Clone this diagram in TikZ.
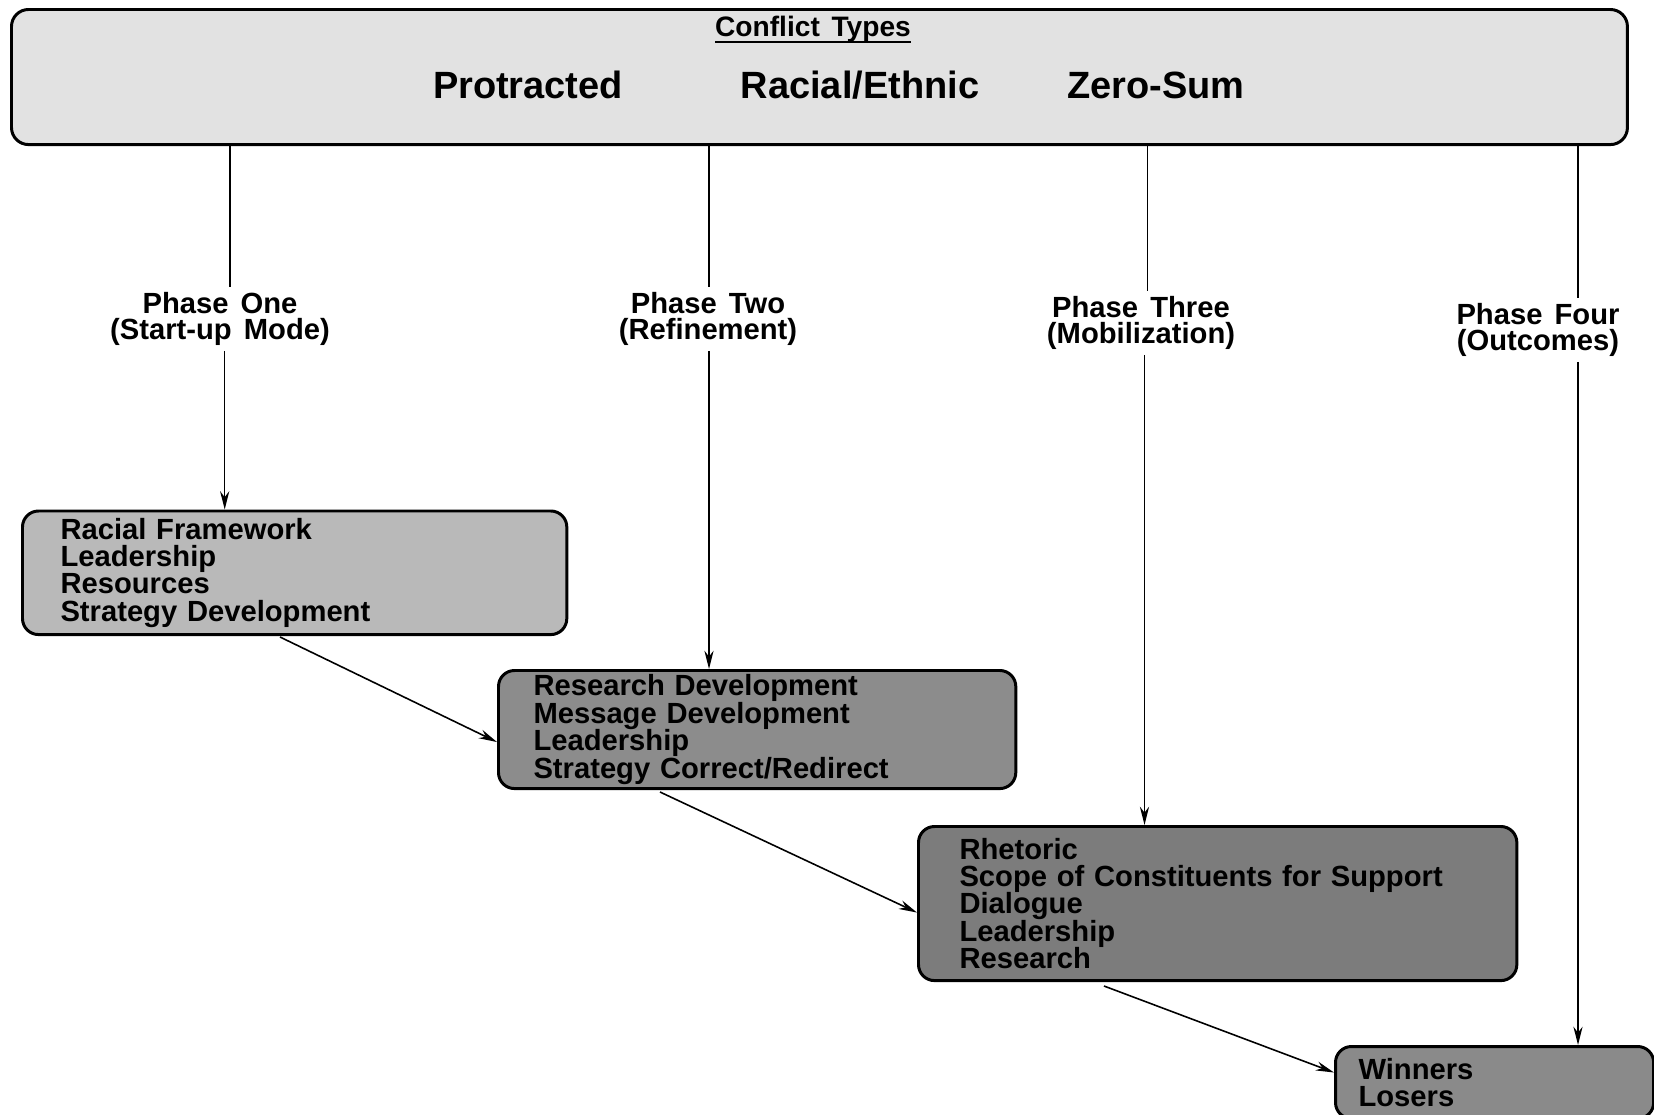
\documentclass[tikz,border=0pt]{standalone}
\usepackage{fontspec}
\setmainfont{Liberation Sans}[WordSpace=1.5]
\usetikzlibrary{arrows.meta}
\definecolor{typefill}{RGB}{226,226,226}
\definecolor{onefill}{RGB}{185,185,185}
\definecolor{twofill}{RGB}{140,140,140}
\definecolor{threefill}{RGB}{124,124,124}
\definecolor{fourfill}{RGB}{138,138,138}
\newcommand{\typesline}[1]{\setbox0\hbox{#1}\rlap{\rule[-1.6pt]{\wd0}{.6pt}}\box0}
\tikzset{
  stagebox/.style={draw, line width=.85pt, rounded corners=1.6mm, anchor=north west,
    align=left, inner ysep=0pt, font=\fontsize{8.3}{7.8}\selectfont\bfseries},
  phase/.style={align=center, inner sep=1.2pt, font=\fontsize{8.3}{7.5}\selectfont\bfseries},
  ctype/.style={anchor=base, font=\fontsize{10.8}{12}\selectfont\bfseries},
}
\begin{document}
\begin{tikzpicture}[x=.01cm, y=-.01cm, >={Stealth[length=5.2pt,width=2.6pt]}, line width=.45pt]
     \useasboundingbox (0,0) rectangle (1654,1115);
     % conflict types
     \node[draw, line width=.85pt, rounded corners=1.7mm, fill=typefill, anchor=north west,
       minimum width=16.15cm, minimum height=1.35cm] (top) at (10,8) {};
     \node[anchor=base, font=\fontsize{8}{9}\selectfont\bfseries] (ttl) at (813,37) {\typesline{Conflict Types}};
     \node[ctype] (prot) at (528,98) {Protracted};
     \node[ctype] (race) at (860,98) {Racial/Ethnic};
     \node[ctype] (zero) at (1156,98) {Zero-Sum};
     % phases
     \node[phase] (p1) at (220,319) {Phase One\\(Start-up Mode)};
     \node[phase] (p2) at (708,319) {Phase Two\\(Refinement)};
     \node[phase] (p3) at (1141,323) {Phase Three\\(Mobilization)};
     \node[phase] (p4) at (1538,330) {Phase Four\\(Outcomes)};
     % stages
     \node[stagebox, fill=onefill, text width=4.68cm, inner xsep=.38cm, minimum height=1.235cm] (r1) at (21,509.5)
       {Racial Framework\\Leadership\\Resources\\Strategy Development};
     \node[stagebox, fill=twofill, text width=4.47cm, inner xsep=.35cm, minimum height=1.18cm] (r2) at (497,669)
       {Research Development\\Message Development\\Leadership\\Strategy Correct/Redirect};
     \node[stagebox, fill=threefill, text width=5.16cm, inner xsep=.41cm, minimum height=1.54cm] (r3) at (917,825)
       {Rhetoric\\Scope of Constituents for Support\\Dialogue\\Leadership\\Research};
     \node[stagebox, fill=fourfill, text width=2.72cm, inner xsep=.23cm, minimum height=.72cm] (r4) at (1334,1045)
       {Winners\\Losers};
     % phase lines
     \coordinate (u1) at (230,0);
     \coordinate (l1) at (224.7,0);
     \coordinate (u2) at (709,0);
     \coordinate (l2) at (709,0);
     \coordinate (u3) at (1147.6,0);
     \coordinate (l3) at (1144.5,0);
     \coordinate (u4) at (1578,0);
     \coordinate (l4) at (1578,0);
     \foreach \i in {1,2,3,4}
     {
         \draw (u\i |- top.south) -- (u\i |- p\i.north);
         \draw[->] (l\i |- p\i.south) -- (l\i |- r\i.north);
     }
     % stage to stage
     \coordinate (s1) at (280,637);
     \coordinate (s2) at (660,792);
     \coordinate (s3) at (1104,986);
     \draw[->] (s1) -- ([yshift=-1.25mm]r2.west);
     \draw[->] (s2) -- ([yshift=-.9mm]r3.west);
     \draw[->] (s3) -- ([yshift=1mm]r4.west);
 \end{tikzpicture}
\end{document}
